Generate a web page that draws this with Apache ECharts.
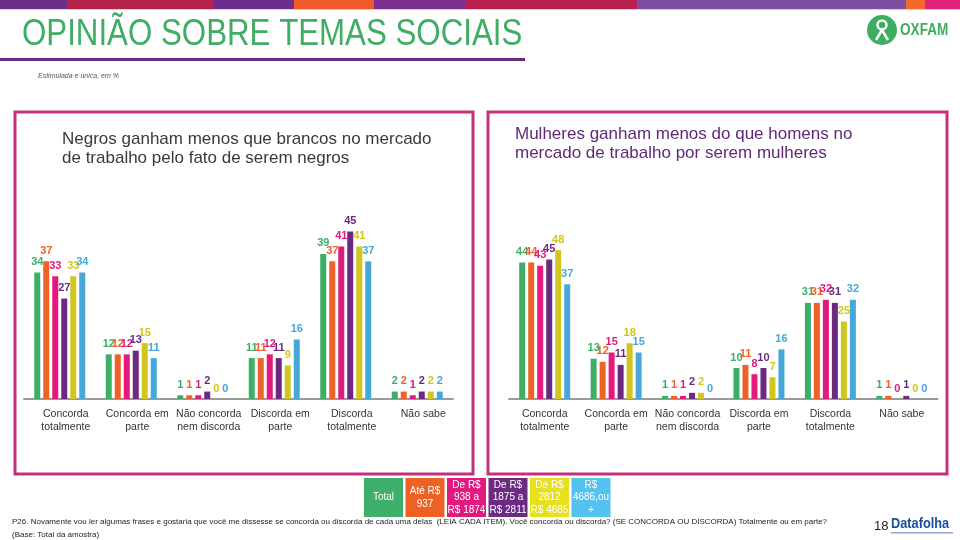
<!DOCTYPE html>
<html><head><meta charset="utf-8">
<script src="https://cdn.jsdelivr.net/npm/echarts@6/dist/echarts.min.js"></script>
<style>html,body{margin:0;padding:0;background:#fff}#c{width:960px;height:540px}</style>
</head><body><div id="c"></div>
<script>
const categories = ['Concorda\ntotalmente','Concorda em\nparte','Não concorda\nnem discorda','Discorda em\nparte','Discorda\ntotalmente','Não sabe'];
const seriesNames = ['Total','Até R$ 937','De R$ 938 a R$ 1874','De R$ 1875 a R$ 2811','De R$ 2812 a R$ 4685','R$ 4686,ou +'];
const legendLabels = ['Total','Até R$\n937','De R$\n938 a\nR$ 1874','De R$\n1875 a\nR$ 2811','De R$\n2812\nR$ 4685','R$\n4686,ou\n+'];
// Negros ganham menos que brancos...
const negrosTotal   = [34,12,1,11,39,2];
const negrosAte937  = [37,12,1,11,37,2];
const negros938     = [33,12,1,12,41,1];
const negros1875    = [27,13,2,11,45,2];
const negros2812    = [33,15,0,9,41,2];
const negros4686    = [34,11,0,16,37,2];
// Mulheres ganham menos que homens...
const mulheresTotal  = [44,13,1,10,31,1];
const mulheresAte937 = [44,12,1,11,31,1];
const mulheres938    = [43,15,1,8,32,0];
const mulheres1875   = [45,11,2,10,31,1];
const mulheres2812   = [48,18,2,7,25,0];
const mulheres4686   = [37,15,0,16,32,0];

const leftSeries = [negrosTotal,negrosAte937,negros938,negros1875,negros2812,negros4686];
const rightSeries = [mulheresTotal,mulheresAte937,mulheres938,mulheres1875,mulheres2812,mulheres4686];

const colors = ['#3DAE67','#EC6227','#E3197D','#6B2A80','#D2C51D','#46A8D8'];
const legendColors = ['#3EAF6A','#EE6125','#E2197E','#6C2A83','#E6E01E','#55C1EE'];

function mk(data, i, g) {
  return {
    type:'bar', name:seriesNames[i], xAxisIndex:g, yAxisIndex:g, data:data,
    barWidth:6, barGap:'50%',
    itemStyle:{color:colors[i]},
    label:{show:true, position:'top', distance:5, color:colors[i], fontSize:11, fontWeight:'bold', fontFamily:'Liberation Sans, Arial, sans-serif'}
  };
}
const series = [];
leftSeries.forEach((d,i)=>series.push(mk(d,i,0)));
rightSeries.forEach((d,i)=>series.push(mk(d,i,1)));

function xAx(g, pad) {
  return {
    type:'category', gridIndex:g, data:categories,
    axisLine:{lineStyle:{color:'#9a9a9a', width:2}},
    axisTick:{show:false},
    axisLabel:{color:'#333', fontSize:10.5, lineHeight:13, margin:9, interval:0, fontFamily:'Liberation Sans, Arial, sans-serif', padding:pad}
  };
}

const graphic = [];
// top band
const band = [[0,67,'#6B2F8A'],[67,214,'#B5234A'],[214,294,'#6A2F8C'],[294,374,'#F15A29'],[374,465,'#7B3090'],[465,637,'#B82050'],[637,906,'#7E4FA0'],[906,925,'#F26B2A'],[925,960,'#E0207A']];
band.forEach(b=>graphic.push({type:'rect', shape:{x:b[0],y:0,width:b[1]-b[0],height:9}, style:{fill:b[2]}}));
graphic.push({type:'rect', shape:{x:0,y:9,width:960,height:1}, style:{fill:'#D9C8E6'}});
// title
graphic.push({type:'text', x:22, y:35, scaleX:0.845, style:{text:'OPINIÃO SOBRE TEMAS SOCIAIS', x:0, y:0, textVerticalAlign:'middle', font:'37px "Liberation Sans", Arial, sans-serif', fill:'#40AD65'}});
graphic.push({type:'rect', shape:{x:0,y:58,width:525,height:3}, style:{fill:'#6B2C7E'}});
graphic.push({type:'text', style:{text:'Estimulada e única, em %', x:38, y:76, textVerticalAlign:'middle', font:'italic 7px "Liberation Sans", sans-serif', fill:'#555'}});
// oxfam logo
graphic.push({type:'circle', shape:{cx:882,cy:30,r:15}, style:{fill:'#3DAE5F'}});
graphic.push({type:'circle', shape:{cx:882,cy:25,r:4.5}, style:{fill:'none', stroke:'#fff', lineWidth:2.5}});
graphic.push({type:'polyline', shape:{points:[[876,40],[882,30],[888,40]]}, style:{fill:'none', stroke:'#fff', lineWidth:2.5}});
graphic.push({type:'text', x:900, y:31, scaleX:0.85, style:{text:'OXFAM', x:0, y:0, textVerticalAlign:'middle', font:'bold 16px "Liberation Sans", Arial, sans-serif', fill:'#3DAE5F'}});
// panel borders
graphic.push({type:'rect', shape:{x:15,y:112,width:458,height:362}, style:{fill:'none', stroke:'#C2307E', lineWidth:3}});
graphic.push({type:'rect', shape:{x:488,y:112,width:459,height:362}, style:{fill:'none', stroke:'#C2307E', lineWidth:3}});
// panel titles
graphic.push({type:'text', style:{text:'Negros ganham menos que brancos no mercado\nde trabalho pelo fato de serem negros', x:62, y:130, lineHeight:19, font:'17px "Liberation Sans", Arial, sans-serif', fill:'#3a3a3a'}});
graphic.push({type:'text', style:{text:'Mulheres ganham menos do que homens no\nmercado de trabalho por serem mulheres', x:515, y:125, lineHeight:19, font:'17px "Liberation Sans", Arial, sans-serif', fill:'#5E2A78'}});
// legend cells
legendLabels.forEach((t,i)=>{
  const x = 364 + i*41.5;
  graphic.push({type:'rect', shape:{x:x,y:478,width:39,height:39}, style:{fill:legendColors[i]}});
  graphic.push({type:'text', style:{text:t, x:x+19.5, y:497.5, textAlign:'center', textVerticalAlign:'middle', lineHeight:12.5, font:'10px "Liberation Sans", Arial, sans-serif', fill:'#fff'}});
});
// footnote
graphic.push({type:'text', style:{text:'P26. Novamente vou ler algumas frases e gostaria que você me dissesse se concorda ou discorda de cada uma delas  (LEIA CADA ITEM). Você concorda ou discorda? (SE CONCORDA OU DISCORDA) Totalmente ou em parte?', x:12, y:522, textVerticalAlign:'middle', font:'8px "Liberation Sans", Arial, sans-serif', fill:'#222'}});
graphic.push({type:'text', style:{text:'(Base: Total da amostra)', x:12, y:535, textVerticalAlign:'middle', font:'8px "Liberation Sans", Arial, sans-serif', fill:'#222'}});
graphic.push({type:'text', style:{text:'18', x:874, y:526, textVerticalAlign:'middle', font:'13px "Liberation Sans", Arial, sans-serif', fill:'#222'}});
graphic.push({type:'text', x:891, y:524, scaleX:0.85, style:{text:'Datafolha', x:0, y:0, textVerticalAlign:'middle', font:'bold 15px "Liberation Sans", Arial, sans-serif', fill:'#1B4F9C'}});
graphic.push({type:'rect', shape:{x:891,y:532,width:62,height:1.5}, style:{fill:'#8EA6CC'}});

const chart = echarts.init(document.getElementById('c'), null, {renderer:'canvas'});
chart.setOption({
  animation:false,
  backgroundColor:'#fff',
  grid:[
    {left:24, top:213, width:429, height:186},
    {left:509, top:213, width:428.5, height:186}
  ],
  xAxis:[xAx(0,[0,0,0,12]), xAx(1,[0,0,0,0])],
  yAxis:[
    {type:'value', gridIndex:0, min:0, max:50, show:false, splitLine:{show:false}},
    {type:'value', gridIndex:1, min:0, max:60, show:false, splitLine:{show:false}}
  ],
  series:series,
  graphic:graphic
});
</script></body></html>
